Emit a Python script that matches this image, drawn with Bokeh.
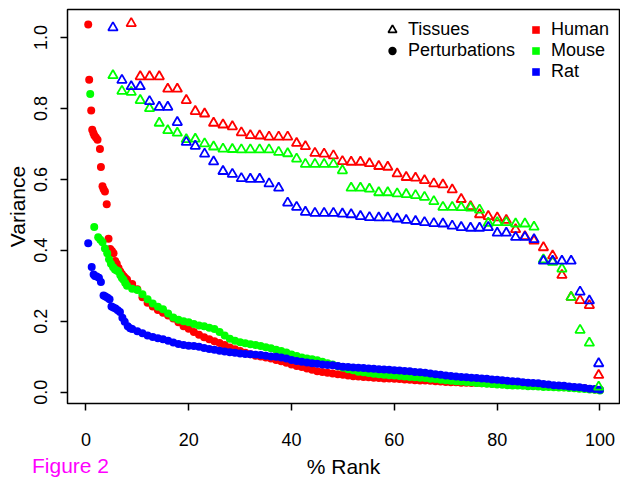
from bokeh.plotting import figure
from bokeh.models import (Range1d, FixedTicker, PrintfTickFormatter, LinearAxis,
                          Legend, LegendItem)
from bokeh.embed import file_html
from bokeh.resources import INLINE

FONT = "Liberation Sans"
RED, GREEN, BLUE = "#FF0000", "#00FF00", "#0000FF"
NAN = float("nan")

# ---- tissues: % rank of each tissue and its variance, one list per species
tissue_rank = [5.26, 7.01, 8.82, 10.57, 12.38, 14.27, 15.93, 17.78, 19.53, 21.28,
               23.09, 24.84, 26.67, 28.49, 30.24, 31.99, 33.80, 35.63, 37.50, 39.25,
               40.99, 42.70, 44.55, 46.34, 48.15, 49.90, 51.60, 53.41, 55.16, 56.97,
               58.72, 60.55, 62.31, 64.12, 65.87, 67.68, 69.45, 71.26, 73.01, 74.83,
               76.58, 78.27, 80.02, 81.78, 83.59, 85.40, 87.17, 89.00, 90.79, 92.60,
               94.39, 96.13, 97.94, 99.75]
# the two highest human tissues lie above the plotted range
human_tissue = [NAN, NAN,
                1.040, 0.890, 0.890, 0.890, 0.855, 0.855, 0.823, 0.792, 0.785, 0.759,
                0.754, 0.749, 0.732, 0.724, 0.723, 0.720, 0.720, 0.720, 0.702, 0.693,
                0.674, 0.672, 0.667, 0.651, 0.649, 0.649, 0.645, 0.637, 0.635, 0.616,
                0.606, 0.604, 0.597, 0.588, 0.585, 0.571, 0.544, 0.524, 0.501, 0.496,
                0.492, 0.485, 0.459, 0.439, 0.427, 0.408, 0.385, 0.330, 0.268, 0.259,
                0.245, 0.048]
mouse_tissue = [0.893, 0.849, 0.846, 0.823, 0.800, 0.759, 0.738, 0.731, 0.713, 0.714,
                0.701, 0.692, 0.686, 0.685, 0.684, 0.684, 0.684, 0.684, 0.677, 0.673,
                0.658, 0.643, 0.643, 0.643, 0.643, 0.625, 0.576, 0.576, 0.573, 0.563,
                0.563, 0.560, 0.558, 0.555, 0.550, 0.538, 0.522, 0.522, 0.521, 0.520,
                0.514, 0.477, 0.479, 0.479, 0.475, 0.475, 0.466, 0.374, 0.367, 0.348,
                0.268, 0.175, 0.139, 0.015]
rat_tissue = [1.028, 0.880, 0.862, 0.862, 0.820, 0.804, 0.804, 0.761, 0.705, 0.694,
              0.672, 0.650, 0.623, 0.615, 0.603, 0.601, 0.601, 0.588, 0.576, 0.534,
              0.522, 0.508, 0.505, 0.505, 0.505, 0.503, 0.501, 0.496, 0.493, 0.492,
              0.492, 0.489, 0.485, 0.482, 0.479, 0.476, 0.475, 0.469, 0.465, 0.463,
              0.463, 0.465, 0.449, 0.449, 0.437, 0.437, 0.431, 0.370, 0.370, 0.370,
              0.370, 0.283, 0.258, 0.081]

# ---- perturbations: the top-ranked ones, then the bulk at whole-percent ranks
human_pert_top_rank = [0.45, 0.64, 1.03, 1.23, 1.45, 1.65, 1.95, 2.26, 2.73, 2.92,
                       3.23, 3.45, 3.70, 4.05, 4.40, 4.73, 5.06, 5.37, 5.70, 6.00,
                       6.35, 6.68, 7.00, 7.35, 7.65]
human_pert_top = [1.037, 0.881, 0.794, 0.740, 0.731, 0.724, 0.718, 0.712, 0.686, 0.635,
                  0.581, 0.572, 0.566, 0.530, 0.433, 0.404, 0.398, 0.392, 0.370, 0.362,
                  0.350, 0.340, 0.333, 0.327, 0.322]
mouse_pert_top_rank = [0.84, 1.62, 2.39, 2.80, 3.23, 3.70, 4.15, 4.50, 4.87, 5.30,
                       5.65, 6.00, 6.29, 6.70, 7.00, 7.30, 7.65]
mouse_pert_top = [0.841, 0.466, 0.437, 0.430, 0.423, 0.405, 0.392, 0.375, 0.362, 0.352,
                  0.346, 0.343, 0.341, 0.330, 0.322, 0.317, 0.308]
rat_pert_top_rank = [0.45, 1.13, 1.50, 1.75, 2.10, 2.53, 2.92, 3.43, 3.80, 4.21,
                     4.60, 4.98, 5.35, 5.76, 6.20, 6.62, 7.10, 7.55, 8.14, 8.60]
rat_pert_top = [0.420, 0.353, 0.332, 0.328, 0.326, 0.323, 0.311, 0.273, 0.270, 0.266,
                0.262, 0.242, 0.239, 0.236, 0.231, 0.226, 0.210, 0.199, 0.186, 0.180]

human_pert_bulk_rank = list(range(8, 101))
human_pert_bulk = [0.318, 0.305, 0.290, 0.268, 0.252, 0.242, 0.232, 0.224, 0.216, 0.208,
                   0.197, 0.186, 0.179, 0.170, 0.162, 0.155, 0.149, 0.144, 0.139, 0.133,
                   0.126, 0.121, 0.116, 0.111, 0.107, 0.103, 0.101, 0.098, 0.095, 0.091,
                   0.087, 0.083, 0.078, 0.074, 0.071, 0.067, 0.063, 0.059, 0.057, 0.055,
                   0.053, 0.051, 0.049, 0.047, 0.045, 0.044, 0.043, 0.042, 0.041, 0.040,
                   0.039, 0.039, 0.038, 0.037, 0.036, 0.035, 0.034, 0.033, 0.033, 0.032,
                   0.031, 0.030, 0.029, 0.028, 0.028, 0.027, 0.027, 0.026, 0.026, 0.025,
                   0.025, 0.024, 0.024, 0.023, 0.023, 0.022, 0.021, 0.021, 0.020, 0.019,
                   0.018, 0.018, 0.017, 0.016, 0.015, 0.014, 0.014, 0.013, 0.012, 0.011,
                   0.009, 0.008, 0.006]
mouse_pert_bulk_rank = list(range(8, 101))
mouse_pert_bulk = [0.300, 0.292, 0.288, 0.276, 0.262, 0.250, 0.241, 0.234, 0.222, 0.211,
                   0.204, 0.200, 0.197, 0.192, 0.188, 0.186, 0.182, 0.178, 0.170, 0.160,
                   0.151, 0.145, 0.141, 0.138, 0.135, 0.133, 0.130, 0.127, 0.124, 0.120,
                   0.116, 0.112, 0.106, 0.102, 0.098, 0.095, 0.093, 0.090, 0.086, 0.082,
                   0.078, 0.073, 0.069, 0.065, 0.062, 0.058, 0.056, 0.054, 0.052, 0.051,
                   0.049, 0.048, 0.047, 0.046, 0.044, 0.043, 0.042, 0.041, 0.040, 0.038,
                   0.037, 0.035, 0.034, 0.032, 0.031, 0.030, 0.029, 0.028, 0.026, 0.025,
                   0.024, 0.023, 0.022, 0.021, 0.020, 0.019, 0.019, 0.018, 0.017, 0.017,
                   0.016, 0.015, 0.015, 0.014, 0.013, 0.013, 0.012, 0.011, 0.010, 0.009,
                   0.008, 0.007, 0.005]
rat_pert_bulk_rank = list(range(9, 101))
rat_pert_bulk = [0.178, 0.172, 0.166, 0.160, 0.156, 0.152, 0.149, 0.145, 0.140,
                 0.136, 0.133, 0.131, 0.130, 0.128, 0.125, 0.122, 0.120, 0.117, 0.115,
                 0.113, 0.111, 0.109, 0.108, 0.107, 0.106, 0.105, 0.103, 0.101, 0.100,
                 0.098, 0.095, 0.091, 0.088, 0.086, 0.084, 0.082, 0.080, 0.078, 0.077,
                 0.076, 0.074, 0.072, 0.071, 0.070, 0.069, 0.068, 0.067, 0.066, 0.065,
                 0.064, 0.063, 0.062, 0.061, 0.060, 0.059, 0.057, 0.056, 0.055, 0.053,
                 0.051, 0.049, 0.047, 0.046, 0.044, 0.043, 0.042, 0.041, 0.040, 0.039,
                 0.038, 0.036, 0.035, 0.034, 0.032, 0.031, 0.030, 0.028, 0.027, 0.026,
                 0.025, 0.023, 0.022, 0.020, 0.019, 0.018, 0.016, 0.015, 0.014, 0.012,
                 0.010, 0.009, 0.007]

x_ticks = [0, 20, 40, 60, 80, 100]
y_ticks = [0.0, 0.2, 0.4, 0.6, 0.8, 1.0]

p = figure(width=620, height=484, output_backend="svg", toolbar_location=None,
           x_range=Range1d(-3.58, 103.8), y_range=Range1d(-0.0318, 1.079),
           min_border_left=67, min_border_right=1, min_border_top=9,
           min_border_bottom=81)
p.grid.visible = False
p.outline_line_color = "black"
p.outline_line_width = 1.5
p.background_fill_color = "white"
p.border_fill_color = "white"

for ax in (p.xaxis[0], p.yaxis[0]):
    ax.axis_line_color = None
    ax.major_tick_in = 0
    ax.major_tick_out = 7
    ax.major_tick_line_width = 1.5
    ax.major_tick_line_color = "black"
    ax.minor_tick_line_color = None
    ax.major_label_text_font = FONT
    ax.major_label_text_font_size = "18px"
    ax.major_label_text_color = "black"
    ax.axis_label_text_font = FONT
    ax.axis_label_text_font_size = "21px"
    ax.axis_label_text_font_style = "normal"
    ax.axis_label_text_color = "black"

p.xaxis.ticker = FixedTicker(ticks=x_ticks)
p.xaxis.axis_label = "% Rank"
p.xaxis.major_label_standoff = 22
p.xaxis.axis_label_standoff = 6

p.yaxis.ticker = FixedTicker(ticks=y_ticks)
p.yaxis.formatter = PrintfTickFormatter(format="%.1f")
p.yaxis.major_label_orientation = "vertical"
p.yaxis.axis_label = "Variance"
p.yaxis.major_label_standoff = 13
p.yaxis.axis_label_standoff = 3

# magenta figure tag in the lower left corner, level with the x-axis title
note_x = -3
note_axis = LinearAxis(ticker=FixedTicker(ticks=[note_x]),
                       major_label_overrides={note_x: "Figure 2"},
                       axis_line_color=None, major_tick_line_color=None,
                       minor_tick_line_color=None, major_tick_out=0, major_tick_in=0,
                       major_label_standoff=-27, major_label_text_font=FONT,
                       major_label_text_font_size="21px",
                       major_label_text_color="#FF00FF")
p.add_layout(note_axis, "below")

# perturbations (filled dots), human then mouse then rat on top
dot = dict(marker="circle", size=8, line_color=None)
for ranks, vals, col in [(human_pert_top_rank, human_pert_top, RED),
                         (human_pert_bulk_rank, human_pert_bulk, RED),
                         (mouse_pert_top_rank, mouse_pert_top, GREEN),
                         (mouse_pert_bulk_rank, mouse_pert_bulk, GREEN),
                         (rat_pert_top_rank, rat_pert_top, BLUE),
                         (rat_pert_bulk_rank, rat_pert_bulk, BLUE)]:
    p.scatter(ranks, vals, fill_color=col, **dot)

# tissues (open triangles)
tri = dict(marker="triangle", size=9.5, fill_color=None, line_width=1.8)
for vals, col in [(human_tissue, RED), (mouse_tissue, GREEN), (rat_tissue, BLUE)]:
    p.scatter(tissue_rank, vals, line_color=col, **tri)

# legend keys: glyphs carry only styling, their single point is NaN
key_tri = p.scatter([NAN], [NAN], marker="triangle", fill_color=None,
                    line_color="black", line_width=1.8)
key_dot = p.scatter([NAN], [NAN], marker="circle", fill_color="black", line_color=None)
key_h = p.scatter([NAN], [NAN], marker="square", fill_color=RED, line_color=None)
key_m = p.scatter([NAN], [NAN], marker="square", fill_color=GREEN, line_color=None)
key_r = p.scatter([NAN], [NAN], marker="square", fill_color=BLUE, line_color=None)

common = dict(label_text_font=FONT, label_text_font_size="18px",
              label_text_color="black", border_line_color=None,
              background_fill_alpha=0, padding=0, margin=0, spacing=0,
              label_height=21, glyph_height=21)
leg_type = Legend(items=[LegendItem(label="Tissues", renderers=[key_tri]),
                         LegendItem(label="Perturbations", renderers=[key_dot])],
                  location=(313, 342), glyph_width=24, label_standoff=4, **common)
leg_species = Legend(items=[LegendItem(label="Human", renderers=[key_h]),
                            LegendItem(label="Mouse", renderers=[key_m]),
                            LegendItem(label="Rat", renderers=[key_r])],
                     location=(459, 321), glyph_width=19, label_standoff=6, **common)
p.add_layout(leg_type)
p.add_layout(leg_species)

open("out.html", "w").write(file_html(p, INLINE))
